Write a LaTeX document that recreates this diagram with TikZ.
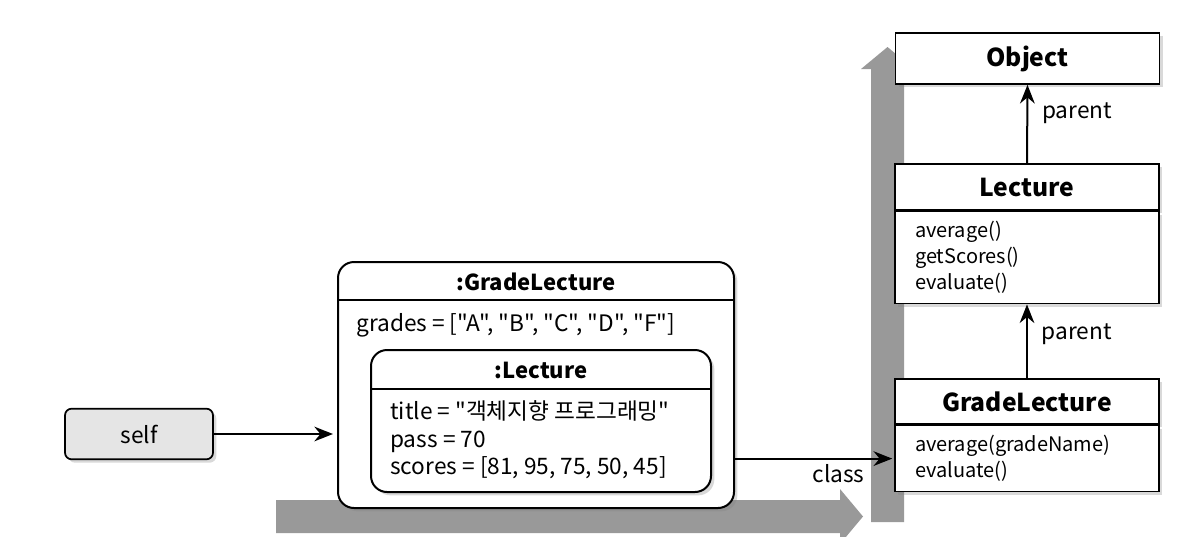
\documentclass[tikz,border=0pt]{standalone}
\usepackage{fontspec}
\setmainfont{Noto Sans CJK KR}[Ligatures=TeXOff]
\usetikzlibrary{positioning, arrows.meta, shadows}

\begin{document}
\begin{tikzpicture}[
        x=0.75pt, y=-0.75pt,
        font=\fontsize{17}{20.5}\selectfont,
        >={Stealth[length=14pt, width=11pt]},
        boxshadow/.style={drop shadow={opacity=0.3, shadow xshift=2.5pt, shadow yshift=-2.5pt}},
        selfbox/.style={rectangle, rounded corners=5pt, draw, line width=1.3pt, fill=gray!20, minimum width=111pt, minimum height=38pt, boxshadow},
        objbox/.style={rectangle, rounded corners=12pt, draw, line width=1.5pt, fill=white, boxshadow},
        classhead/.style={rectangle, draw, line width=1.2pt, fill=white, minimum width=198pt, font=\fontsize{18.5}{22}\selectfont\bfseries, boxshadow},
        classbody/.style={rectangle, draw, line width=1.2pt, fill=white, text width=168pt, inner xsep=15pt, align=left, anchor=north, font=\fontsize{15}{19.5}\selectfont, boxshadow},
        heading/.style={font=\fontsize{16.5}{20}\selectfont\bfseries},
        field/.style={anchor=west, inner sep=0pt, align=left},
        arrow/.style={->, line width=1.5pt},
        flow/.style={fill=black!40}
    ]
        \useasboundingbox (0,0) rectangle (1199,536);

        % Big flow arrows (background)
        \fill[flow] (276,500) -- (840,500) -- (840,489) -- (863,516.5) -- (840,544) -- (840,533) -- (276,533) -- cycle;
        \fill[flow] (871,522) -- (871,69) -- (861,69) -- (887.5,47) -- (914,69) -- (904,69) -- (904,522) -- cycle;

        % self
        \node[selfbox] (self) at (139,434) {self};

        % Object boxes
        \node[objbox, minimum width=297pt, minimum height=184.5pt] (gradeobj) at (536,385) {};
        \node[heading] (gradeobjname) at (536,282) {:GradeLecture};
        \draw[line width=1.5pt] (gradeobj.west |- 0,300) -- (gradeobj.east |- 0,300);
        \node[field] (grades) at (356,325) {grades = ["A", "B", "C", "D", "F"]};

        \node[objbox, minimum width=255pt, minimum height=106.5pt] (lectureobj) at (541,421) {};
        \node[heading] (lectureobjname) at (541,370) {:Lecture};
        \draw[line width=1.5pt] (lectureobj.west |- 0,389) -- (lectureobj.east |- 0,389);
        \node[field] (lecturefields) at (390,440) {title = "객체지향 프로그래밍"\\pass = 70\\scores = [81, 95, 75, 50, 45]};

        % Classes
        \node[classhead, minimum height=38.25pt] (object) at (1027.5,58.5) {Object};

        \node[classhead, minimum height=34.5pt] (lecture) at (1027,187) {Lecture};
        \node[classbody, minimum height=69pt] (lecturebody) at (lecture.south) {average()\\getScores()\\evaluate()};

        \node[classhead, minimum height=33.75pt] (gradelecture) at (1027,401.5) {GradeLecture};
        \node[classbody, minimum height=49.5pt] (gradelecturebody) at (gradelecture.south) {average(gradeName)\\evaluate()};

        % Arrows
        \draw[arrow, shorten >=3pt] (self.east) -- (self.east -| gradeobj.west);
        \draw[arrow, shorten >=1.5pt] (gradeobj.east |- gradelecturebody.west) -- (gradelecturebody.west) node[pos=0.65, below] {class};
        \draw[arrow] (gradelecture.north) -- (lecturebody.south) node[pos=0.6, right=7pt] {parent};
        \draw[arrow] (lecture.north) -- (object.south) node[pos=0.64, right=7pt] {parent};
    \end{tikzpicture}
\end{document}
